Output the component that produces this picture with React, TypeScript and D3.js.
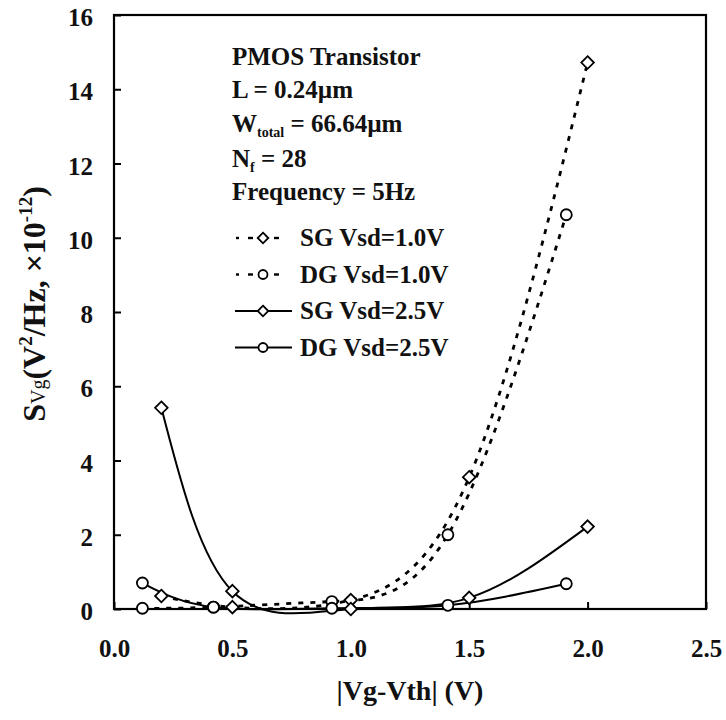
import React, { useEffect, useRef } from 'react';
import * as d3 from 'd3';

// |Vg-Vth| positions for single-gate and double-gate samples
const sgX = [0.2, 0.5, 1.0, 1.5, 2.0];
const dgX = [0.12, 0.42, 0.92, 1.41, 1.91];

// Svg values (x1e-12 V^2/Hz)
const sg10 = [0.35, 0.05, 0.24, 3.55, 14.72];
const dg10 = [0.02, 0.05, 0.2, 2.0, 10.62];
const sg25 = [5.42, 0.48, 0.0, 0.3, 2.22];
const dg25 = [0.7, 0.05, 0.02, 0.1, 0.68];

const xTicks = [0, 0.5, 1.0, 1.5, 2.0, 2.5];
const yTicks = [0, 2, 4, 6, 8, 10, 12, 14, 16];

const seriesList = [
  { name: 'SG Vsd=1.0V', x: sgX, y: sg10, marker: 'diamond', dashed: true },
  { name: 'DG Vsd=1.0V', x: dgX, y: dg10, marker: 'circle', dashed: true },
  { name: 'SG Vsd=2.5V', x: sgX, y: sg25, marker: 'diamond', dashed: false },
  { name: 'DG Vsd=2.5V', x: dgX, y: dg25, marker: 'circle', dashed: false },
];

const FONT = '"Liberation Serif", "Times New Roman", serif';

const App = () => {
  const svgRef = useRef(null);
  const svgWidth = 726;
  const svgHeight = 720;
  const margin = { top: 15, right: 20, bottom: 111, left: 114 };
  const width = svgWidth - margin.left - margin.right;
  const height = svgHeight - margin.top - margin.bottom;

  useEffect(() => {
    document.body.style.margin = '0';
    const svg = d3.select(svgRef.current);
    svg.selectAll('*').remove();

    const x = d3.scaleLinear().domain([0, 2.5]).range([0, width]);
    const y = d3.scaleLinear().domain([0, 16]).range([height, 0]);

    const g = svg.append('g')
      .attr('transform', `translate(${margin.left},${margin.top})`);

    // axes, ticks pointing inward
    const yAxis = g.append('g')
      .call(d3.axisLeft(y).tickValues(yTicks).tickSizeInner(-7).tickSizeOuter(0).tickPadding(21));
    yAxis.select('.domain').remove();
    yAxis.selectAll('line').attr('stroke', '#000').attr('stroke-width', 2);
    yAxis.selectAll('text')
      .attr('dy', '0.42em')
      .style('font-family', FONT).style('font-weight', 'bold').style('font-size', '25px').attr('fill', '#111');

    const xAxis = g.append('g')
      .attr('transform', `translate(0,${height})`)
      .call(d3.axisBottom(x).tickValues(xTicks).tickFormat(d3.format('.1f')).tickSizeInner(-7).tickSizeOuter(0));
    xAxis.select('.domain').remove();
    xAxis.selectAll('line').attr('stroke', '#000').attr('stroke-width', 2);
    xAxis.selectAll('text')
      .attr('y', 48).attr('dy', 0)
      .style('font-family', FONT).style('font-weight', 'bold').style('font-size', '25px').attr('fill', '#111');

    g.append('rect')
      .attr('width', width).attr('height', height)
      .attr('fill', 'none').attr('stroke', '#000').attr('stroke-width', 2.2);

    const diamond = (s) => `M0,${-s}L${s},0L0,${s}L${-s},0Z`;

    const drawMarker = (sel, type, cx, cy, size) => {
      if (type === 'circle') {
        sel.append('circle').attr('cx', cx).attr('cy', cy).attr('r', size)
          .attr('fill', '#fff').attr('stroke', '#000').attr('stroke-width', 1.8);
      } else {
        sel.append('path').attr('d', diamond(size + 0.8))
          .attr('transform', `translate(${cx},${cy})`)
          .attr('fill', '#fff').attr('stroke', '#000').attr('stroke-width', 1.8);
      }
    };

    const line = d3.line()
      .x(d => x(d[0]))
      .y(d => y(d[1]))
      .curve(d3.curveNatural);

    seriesList.forEach(s => {
      const pts = s.x.map((v, i) => [v, s.y[i]]);
      g.append('path')
        .datum(pts)
        .attr('d', line)
        .attr('fill', 'none')
        .attr('stroke', '#000')
        .attr('stroke-width', s.dashed ? 2.8 : 2)
        .attr('stroke-dasharray', s.dashed ? '5,7' : null);
    });
    seriesList.forEach(s => {
      s.x.forEach((v, i) => drawMarker(g, s.marker, x(v), y(s.y[i]), 5.5));
    });

    // annotation block
    const info = svg.append('g')
      .style('font-family', FONT).style('font-weight', 'bold').style('font-size', '25px').attr('fill', '#111');
    info.append('text').attr('x', 232).attr('y', 65).text('PMOS Transistor');
    info.append('text').attr('x', 232).attr('y', 98).text('L = 0.24\u00b5m');
    const w = info.append('text').attr('x', 232).attr('y', 132);
    w.append('tspan').text('W');
    w.append('tspan').attr('dy', 5).style('font-size', '14px').text('total');
    w.append('tspan').attr('dy', -5).text(' = 66.64\u00b5m');
    const n = info.append('text').attr('x', 232).attr('y', 167);
    n.append('tspan').text('N');
    n.append('tspan').attr('dy', 5).style('font-size', '14px').text('f');
    n.append('tspan').attr('dy', -5).text(' = 28');
    info.append('text').attr('x', 232).attr('y', 200).text('Frequency = 5Hz');

    // legend
    seriesList.forEach((s, i) => {
      const cy = 238 + i * 36.5;
      const lg = svg.append('g');
      if (s.dashed) {
        [[236, 239], [248, 253], [274, 279]].forEach(([a, b]) => {
          lg.append('line').attr('x1', a).attr('x2', b).attr('y1', cy).attr('y2', cy)
            .attr('stroke', '#000').attr('stroke-width', 2.4);
        });
      } else {
        lg.append('line').attr('x1', 235).attr('x2', 292).attr('y1', cy).attr('y2', cy)
          .attr('stroke', '#000').attr('stroke-width', 2);
      }
      drawMarker(lg, s.marker, 263, cy, 4.5);
      lg.append('text').attr('x', 300).attr('y', cy + 8)
        .style('font-family', FONT).style('font-weight', 'bold').style('font-size', '25px').attr('fill', '#111')
        .text(s.name);
    });

    // axis titles
    svg.append('text')
      .attr('x', margin.left + x(1.25)).attr('y', 700)
      .attr('text-anchor', 'middle')
      .style('font-family', FONT).style('font-weight', 'bold').style('font-size', '28px').attr('fill', '#111')
      .text('|Vg-Vth| (V)');

    const yt = svg.append('text')
      .attr('transform', `translate(45,${margin.top + height / 2 - 8}) rotate(-90)`)
      .attr('text-anchor', 'middle')
      .style('font-family', FONT).style('font-weight', 'bold').style('font-size', '32px').attr('fill', '#111');
    yt.append('tspan').text('S');
    yt.append('tspan').style('font-size', '20px').style('font-weight', 'normal').text('Vg');
    yt.append('tspan').text('(V');
    yt.append('tspan').attr('dy', -13).style('font-size', '19px').text('2');
    yt.append('tspan').attr('dy', 13).text('/Hz, \u00d710');
    yt.append('tspan').attr('dy', -13).style('font-size', '19px').text('-12');
    yt.append('tspan').attr('dy', 13).text(')');
  }, [width, height, margin.left, margin.top]);

  return <svg ref={svgRef} width={svgWidth} height={svgHeight} style={{ display: 'block', background: '#fff' }}></svg>;
};

export default App;
